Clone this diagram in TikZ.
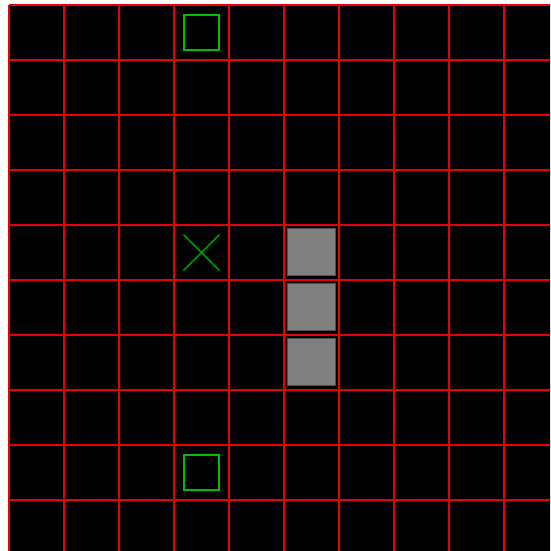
\documentclass[tikz,border=0pt]{standalone}
\usetikzlibrary{positioning,shapes.misc}
\definecolor{gridred}{RGB}{235,0,0}
\definecolor{goalgreen}{RGB}{0,190,0}
\definecolor{agentgreen}{RGB}{0,150,0}
\definecolor{blockgrey}{RGB}{128,128,128}
\definecolor{blockedge}{RGB}{80,80,80}
\begin{document}
\begin{tikzpicture}[
		x=1pt, y=-1pt,
		node distance=8pt,
		every node/.style={inner sep=0pt, outer sep=0pt},
		gridline/.style={draw=gridred, line width=2.6pt},
		goal/.style={draw=goalgreen, line width=2pt, minimum size=35pt},
		agent/.style={cross out, draw=agentgreen, line width=1.5pt, minimum size=36pt},
		block/.style={draw=blockedge, fill=blockgrey, line width=1pt,
			minimum width=48pt, minimum height=47pt}
		]
		
		\useasboundingbox (0,0) rectangle (550,551);
		\clip (0,0) rectangle (550,551);
		\fill[white] (0,0) rectangle (550,551);
		\fill[black] (9,5) rectangle (560,560);
		
		% grid
		\foreach \i in {0,...,10} {
			\draw[gridline] (9+55*\i,5) -- (9+55*\i,560);
			\draw[gridline] (9,5+55*\i) -- (560,5+55*\i);
		}
		
		\node[goal] (goal top) at (201.5,32.5) {};
		\node[goal] (goal bottom) at (201.5,472.5) {};
		
		\node[agent] (agent) at (201.5,252.5) {};
		
		\node[block] (wall a) at (311.5,252) {};
		\node[block] (wall b) [below=of wall a] {};
		\node[block] (wall c) [below=of wall b] {};
		
	\end{tikzpicture}
\end{document}
